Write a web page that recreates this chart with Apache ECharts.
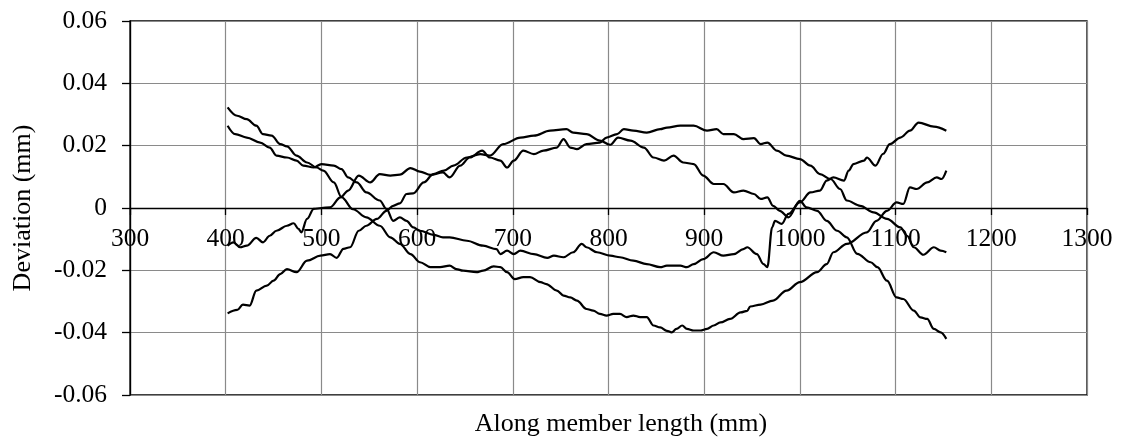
<!DOCTYPE html>
<html>
<head>
<meta charset="utf-8">
<script src="https://cdn.jsdelivr.net/npm/echarts@6/dist/echarts.min.js"></script>
<style>
  html, body { margin: 0; padding: 0; background: #fff; }
  #chart { width: 1123px; height: 441px; }
</style>
</head>
<body>
<div id="chart"></div>
<script>
// Deviation profiles measured along the member, [position mm, deviation mm]
const profileA = [
  [402,0.0323],[412,0.0296],[422,0.0285],[432,0.0264],[439,0.0237],[448,0.0232],[457,0.0205],[464,0.0198],
  [474,0.0168],[485,0.0146],[495,0.0130],[502,0.0120],[513,0.0082],[521,0.0035],[533,-0.0004],[547,-0.0030],
  [561,-0.0057],[572,-0.0094],[582,-0.0115],[593,-0.0148],[603,-0.0174],[614,-0.0190],[624,-0.0190],[634,-0.0185],
  [641,-0.0196],[648,-0.0201],[662,-0.0206],[669,-0.0201],[680,-0.0187],[687,-0.0190],[694,-0.0206],[702,-0.0228],
  [711,-0.0222],[718,-0.0222],[729,-0.0238],[735,-0.0244],[746,-0.0265],[753,-0.0281],[760,-0.0287],[767,-0.0297],
  [777,-0.0324],[784,-0.0329],[791,-0.0340],[798,-0.0345],[805,-0.0340],[812,-0.0340],[819,-0.0350],[826,-0.0345],
  [833,-0.0350],[840,-0.0350],[847,-0.0377],[854,-0.0383],[861,-0.0394],[866,-0.0399],[871,-0.0388],[877,-0.0377],
  [882,-0.0388],[889,-0.0393],[896,-0.0393],[903,-0.0388],[910,-0.0377],[917,-0.0367],[927,-0.0356],[938,-0.0335],
  [945,-0.0330],[948,-0.0316],[959,-0.0310],[972,-0.0297],[986,-0.0265],[1000,-0.0238],[1018,-0.0206],[1028,-0.0180],
  [1035,-0.0142],[1049,-0.0115],[1070,-0.0078],[1080,-0.0041],[1091,-0.0009],[1101,0.0018],[1108,0.0013],[1115,0.0066],
  [1122,0.0061],[1133,0.0082],[1143,0.0098],[1148,0.0093],[1153,0.0120]
];

const profileB = [
  [402,0.0264],[410,0.0237],[422,0.0226],[436,0.0210],[446,0.0194],[453,0.0168],[464,0.0162],[474,0.0152],
  [481,0.0136],[492,0.0130],[500,0.0141],[513,0.0136],[521,0.0125],[528,0.0098],[537,0.0082],[547,0.0050],
  [561,0.0024],[568,-0.0003],[575,-0.0041],[582,-0.0030],[589,-0.0041],[596,-0.0062],[603,-0.0073],[617,-0.0086],
  [627,-0.0094],[634,-0.0094],[652,-0.0105],[669,-0.0121],[683,-0.0132],[687,-0.0148],[694,-0.0137],[701,-0.0148],
  [708,-0.0137],[722,-0.0148],[736,-0.0160],[743,-0.0153],[753,-0.0158],[763,-0.0142],[772,-0.0115],[777,-0.0126],
  [788,-0.0142],[802,-0.0153],[812,-0.0158],[826,-0.0169],[840,-0.0180],[854,-0.0190],[861,-0.0185],[875,-0.0185],
  [882,-0.0190],[889,-0.0180],[899,-0.0164],[910,-0.0142],[920,-0.0153],[931,-0.0148],[941,-0.0132],[945,-0.0126],
  [955,-0.0148],[962,-0.0180],[966,-0.0190],[971,-0.0062],[974,-0.0041],[981,-0.0051],[988,-0.0019],[1000,0.0018],
  [1011,0.0050],[1021,0.0056],[1028,0.0088],[1035,0.0098],[1046,0.0088],[1051,0.0120],[1056,0.0141],[1067,0.0152],
  [1070,0.0162],[1079,0.0136],[1087,0.0174],[1094,0.0205],[1105,0.0226],[1115,0.0248],[1124,0.0274],[1140,0.0261],
  [1153,0.0248]
];

const profileC = [
  [402,-0.0338],[412,-0.0327],[418,-0.0310],[425,-0.0313],[432,-0.0265],[443,-0.0249],[450,-0.0233],[457,-0.0212],
  [464,-0.0196],[474,-0.0206],[485,-0.0169],[499,-0.0153],[509,-0.0148],[516,-0.0160],[523,-0.0131],[530,-0.0126],
  [539,-0.0073],[547,-0.0057],[558,-0.0035],[568,-0.0009],[575,0.0007],[582,0.0015],[589,0.0045],[596,0.0047],
  [607,0.0082],[617,0.0109],[628,0.0120],[638,0.0136],[652,0.0162],[666,0.0173],[676,0.0168],[690,0.0205],
  [708,0.0226],[722,0.0232],[739,0.0248],[756,0.0253],[763,0.0242],[777,0.0237],[791,0.0216],[802,0.0203],
  [810,0.0226],[823,0.0216],[837,0.0194],[847,0.0162],[858,0.0152],[868,0.0168],[878,0.0146],[889,0.0141],
  [899,0.0104],[910,0.0077],[920,0.0077],[931,0.0050],[941,0.0056],[952,0.0045],[959,0.0029],[966,0.0034],
  [972,0.0007],[979,-0.0009],[988,-0.0030],[1000,0.0023],[1007,0.0002],[1018,-0.0009],[1028,-0.0041],[1039,-0.0073],
  [1049,-0.0094],[1060,-0.0147],[1074,-0.0174],[1081,-0.0190],[1091,-0.0233],[1101,-0.0287],[1108,-0.0292],[1119,-0.0329],
  [1126,-0.0351],[1133,-0.0356],[1140,-0.0388],[1147,-0.0399],[1153,-0.0420]
];

const profileD = [
  [402,-0.0121],[408,-0.0110],[415,-0.0126],[422,-0.0121],[432,-0.0096],[439,-0.0110],[446,-0.0089],[453,-0.0073],
  [464,-0.0057],[471,-0.0049],[476,-0.0067],[479,-0.0078],[485,-0.0035],[492,-0.0003],[500,0.0000],[509,0.0002],
  [520,0.0034],[528,0.0056],[539,0.0104],[551,0.0082],[561,0.0109],[572,0.0104],[582,0.0107],[593,0.0128],
  [603,0.0117],[614,0.0106],[627,0.0114],[634,0.0098],[645,0.0136],[655,0.0162],[668,0.0184],[676,0.0162],
  [687,0.0152],[694,0.0130],[701,0.0152],[711,0.0184],[722,0.0173],[732,0.0184],[746,0.0194],[753,0.0221],
  [760,0.0194],[767,0.0189],[777,0.0205],[791,0.0210],[798,0.0226],[809,0.0237],[816,0.0253],[826,0.0248],
  [840,0.0242],[854,0.0253],[861,0.0258],[875,0.0264],[889,0.0264],[903,0.0248],[913,0.0253],[920,0.0237],
  [931,0.0237],[941,0.0221],[952,0.0224],[959,0.0205],[966,0.0210],[976,0.0184],[986,0.0168],[1000,0.0157],
  [1011,0.0136],[1021,0.0109],[1032,0.0093],[1042,0.0061],[1049,0.0024],[1063,0.0007],[1077,-0.0014],[1091,-0.0035],
  [1105,-0.0062],[1112,-0.0089],[1119,-0.0126],[1129,-0.0150],[1140,-0.0126],[1147,-0.0137],[1153,-0.0142]
];

const profiles = [profileA, profileB, profileC, profileD];

// Axis settings
const xMin = 300, xMax = 1300, xStep = 100;
const yMin = -0.06, yMax = 0.06, yStep = 0.02;
const xTitle = 'Along member length (mm)';
const yTitle = 'Deviation (mm)';

const FONT = "'Liberation Serif', 'Times New Roman', serif";
const GRID_GRAY = '#8a8a8a';

// Plot box in pixels; the horizontal axis sits on the zero line
const GRID = { left: 130, right: 36, top: 21, bottom: 46 };
const CHART_H = 441;
const plotH = CHART_H - GRID.top - GRID.bottom;
const zeroShift = -plotH * (0 - yMin) / (yMax - yMin);

const chart = echarts.init(document.getElementById('chart'), null, { renderer: 'canvas' });

chart.setOption({
  animation: false,
  backgroundColor: '#fff',
  grid: Object.assign({
    show: true, borderColor: '#000', borderWidth: 1.3, backgroundColor: 'transparent'
  }, GRID),
  xAxis: {
    type: 'value',
    position: 'bottom',
    offset: zeroShift,
    min: xMin, max: xMax, interval: xStep,
    axisLine: { show: true, onZero: false, lineStyle: { color: '#000', width: 1.3 } },
    axisTick: { show: true, inside: false, length: 7, lineStyle: { color: '#000', width: 1.3 } },
    axisLabel: {
      color: '#000', fontFamily: FONT, fontSize: 25.5, margin: 18,
      formatter: v => String(v)
    },
    splitLine: { show: true, lineStyle: { color: GRID_GRAY, width: 1.2 } }
  },
  yAxis: {
    type: 'value',
    min: yMin, max: yMax, interval: yStep,
    name: yTitle,
    nameLocation: 'middle',
    nameGap: 94,
    nameRotate: 90,
    nameTextStyle: { color: '#000', fontFamily: FONT, fontSize: 26 },
    axisLine: { show: true, onZero: false, lineStyle: { color: '#000', width: 1.3 } },
    axisTick: { show: true, inside: false, length: 8, lineStyle: { color: '#000', width: 1.3 } },
    axisLabel: {
      color: '#000', fontFamily: FONT, fontSize: 25.5, margin: 23,
      formatter: v => {
        const r = Math.round(v * 100) / 100;
        return r === 0 ? '0' : r.toFixed(2);
      }
    },
    splitLine: { show: true, lineStyle: { color: GRID_GRAY, width: 1.2 } }
  },
  graphic: [{
    type: 'text',
    x: 621, y: 424,
    style: {
      text: xTitle,
      fill: '#000',
      font: "26px 'Liberation Serif', 'Times New Roman', serif",
      textAlign: 'center',
      textVerticalAlign: 'middle'
    }
  }],
  series: profiles.map(d => ({
    type: 'line',
    data: d,
    showSymbol: false,
    smooth: 0.35,
    smoothMonotone: 'x',
    lineStyle: { color: '#000', width: 2.2 },
    emphasis: { disabled: true }
  }))
});
</script>
</body>
</html>
